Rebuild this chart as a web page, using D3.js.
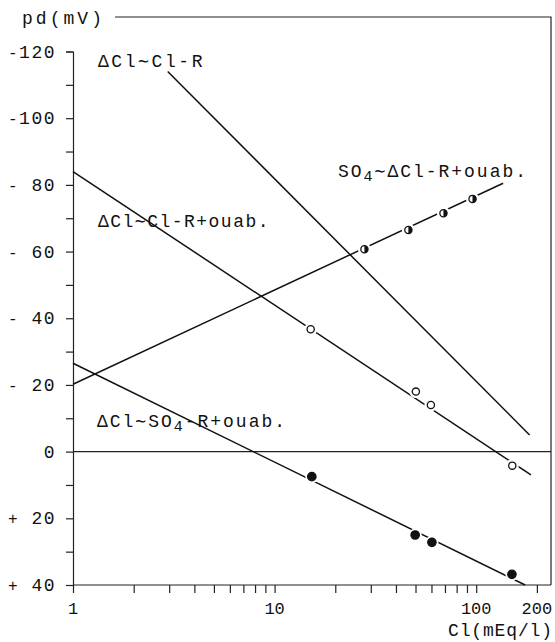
<!DOCTYPE html>
<html>
<head>
<meta charset="utf-8">
<script src="https://cdn.jsdelivr.net/npm/d3@7"></script>
<style>
  body { margin: 0; background: #fff; }
  svg text { font-family: "Liberation Mono", "DejaVu Sans Mono", monospace; fill: #111; }
</style>
</head>
<body>
<div id="chart"></div>
<script>
// Chart size
const width = 555;
const height = 642;

// Axis ticks
const yTicks = d3.range(-120, 41, 10);
const yLabels = [-120, -100, -80, -60, -40, -20, 0, 20, 40];
const xTicks = [1, 2, 3, 4, 5, 6, 7, 8, 9, 10, 20, 30, 40, 50, 60, 70, 80, 90, 100, 200];
const xLabels = [1, 10, 100, 200];

// ΔCl ~ Cl-R (line only)
const clR_x = [2.95, 184];
const clR_y = [-114, -5];

// ΔCl ~ Cl-R + ouab. (open circles)
const clRouab_lineX = [1, 187];
const clRouab_lineY = [-84, 7];
const clRouab_x = [15.1, 50.2, 59.6, 151];
const clRouab_y = [-36.7, -18, -14, 4.2];

// SO4 ~ ΔCl-R + ouab. (half filled circles)
const so4_lineX = [1, 136];
const so4_lineY = [-20.2, -80.5];
const so4_x = [27.9, 46.1, 68.8, 95.9];
const so4_y = [-60.7, -66.5, -71.5, -75.8];

// ΔCl ~ SO4-R + ouab. (filled circles)
const clSo4_lineX = [1, 175];
const clSo4_lineY = [-26.5, 40];
const clSo4_x = [15.3, 49.8, 60.3, 150.4];
const clSo4_y = [7.5, 25, 27.2, 36.8];

// Scales
const x = d3.scaleLog().domain([1, 235]).range([73, 551]);
const y = d3.scaleLinear().domain([-120, 40]).range([51.5, 585]);

const svg = d3.select('#chart').append('svg')
    .attr('width', width)
    .attr('height', height);

const zip = (xs, ys) => xs.map((v, i) => [v, ys[i]]);
const line = d3.line().x(d => x(d[0])).y(d => y(d[1]));

// Frame
svg.append('path')
    .attr('d', `M115,17 H551 V585`)
    .attr('fill', 'none').attr('stroke', '#222').attr('stroke-width', 1.2);

// Zero line
svg.append('line')
    .attr('x1', x(1)).attr('x2', 551)
    .attr('y1', y(0)).attr('y2', y(0))
    .attr('stroke', '#222').attr('stroke-width', 1.2);

// Y axis
const yAxis = svg.append('g')
    .attr('transform', `translate(${x(1)},0)`)
    .call(d3.axisLeft(y).tickValues(yTicks).tickSize(7).tickFormat(''));
yAxis.select('.domain').attr('stroke', '#222').attr('stroke-width', 1.2);
yAxis.selectAll('.tick line').attr('stroke', '#222').attr('stroke-width', 1.2);

// Y labels: sign on the left, number right-aligned
yLabels.forEach(v => {
    const yy = y(v) + 6;
    svg.append('text')
        .attr('x', 56).attr('y', yy).attr('text-anchor', 'end')
        .attr('font-size', 18).attr('letter-spacing', 1.5)
        .text(Math.abs(v));
    if (v !== 0) {
        svg.append('text')
            .attr('x', 8).attr('y', yy)
            .attr('font-size', 16)
            .text(v < 0 ? '-' : '+');
    }
});

// X axis
const xAxis = svg.append('g')
    .attr('transform', `translate(0,${y(40)})`)
    .call(d3.axisBottom(x).tickValues(xTicks).tickSize(8).tickFormat(''));
xAxis.select('.domain').attr('d', `M${x(1)},0H551`).attr('stroke', '#222').attr('stroke-width', 1.2);
xAxis.selectAll('.tick line').attr('stroke', '#222').attr('stroke-width', 1.2);

xLabels.forEach(v => {
    svg.append('text')
        .attr('x', x(v)).attr('y', 614)
        .attr('text-anchor', 'middle')
        .attr('font-size', 17)
        .text(v);
});

// Axis titles
svg.append('text').attr('x', 22).attr('y', 24).attr('font-size', 18)
    .attr('textLength', 80).text('pd(mV)');
svg.append('text').attr('x', 448).attr('y', 636)
    .attr('font-size', 18).attr('textLength', 104).text('Cl(mEq/l)');

// Regression lines
const lines = [
    zip(clR_x, clR_y),
    zip(clRouab_lineX, clRouab_lineY),
    zip(so4_lineX, so4_lineY),
    zip(clSo4_lineX, clSo4_lineY)
];
svg.selectAll('.fit').data(lines).join('path')
    .attr('class', 'fit')
    .attr('d', line)
    .attr('fill', 'none').attr('stroke', '#111').attr('stroke-width', 1.5);

// Markers, each with a white gap around it
function markers(xs, ys, kind) {
    const pts = zip(xs, ys);
    const g = svg.append('g');
    g.selectAll('.gap').data(pts).join('circle')
        .attr('cx', d => x(d[0])).attr('cy', d => y(d[1])).attr('r', 6.5).attr('fill', '#fff');
    if (kind === 'half') {
        const r = 3.6;
        g.selectAll('.m').data(pts).join('g').each(function(d) {
            const cx = x(d[0]), cy = y(d[1]);
            const s = d3.select(this);
            s.append('circle').attr('cx', cx).attr('cy', cy).attr('r', r)
                .attr('fill', '#fff').attr('stroke', '#111').attr('stroke-width', 1.3);
            s.append('path')
                .attr('d', `M${cx},${cy - r} A${r},${r} 0 0 1 ${cx},${cy + r} Z`)
                .attr('fill', '#111');
        });
    } else {
        g.selectAll('.m').data(pts).join('circle')
            .attr('cx', d => x(d[0])).attr('cy', d => y(d[1]))
            .attr('r', kind === 'open' ? 3.6 : 4.2)
            .attr('fill', kind === 'open' ? '#fff' : '#111')
            .attr('stroke', '#111').attr('stroke-width', 1.3);
    }
}
markers(clRouab_x, clRouab_y, 'open');
markers(so4_x, so4_y, 'half');
markers(clSo4_x, clSo4_y, 'filled');

// Series labels, built from pieces; a piece {sub} is a lowered subscript
function label(x0, yb, parts, target) {
    const g = svg.append('g');
    const nodes = parts.map(p => {
        const sub = typeof p === 'object';
        return g.append('text')
            .attr('y', sub ? yb + 4 : yb)
            .attr('font-size', sub ? 15 : 18)
            .text(sub ? p.sub : p);
    });
    const widths = nodes.map(n => n.node().getComputedTextLength());
    const chars = parts.reduce((s, p) => s + (typeof p === 'object' ? p.sub : p).length, 0);
    const extra = (target - d3.sum(widths)) / chars;
    let cx = x0;
    nodes.forEach((n, i) => {
        const len = (typeof parts[i] === 'object' ? parts[i].sub : parts[i]).length;
        n.attr('x', cx).attr('letter-spacing', extra);
        cx += widths[i] + extra * len;
    });
}
label(98, 67, ['ΔCl∼Cl-R'], 107);
label(98, 227, ['ΔCl∼Cl-R+ouab.'], 172);
label(97, 427, ['ΔCl∼SO', { sub: '4' }, '-R+ouab.'], 190);
label(338, 177, ['SO', { sub: '4' }, '∼ΔCl-R+ouab.'], 190);
</script>
</body>
</html>
